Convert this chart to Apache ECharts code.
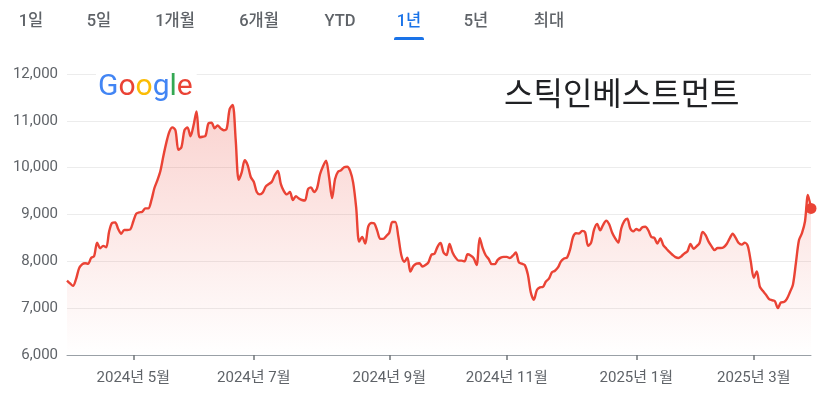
<!DOCTYPE html>
<html>
<head>
<meta charset="utf-8">
<script src="https://cdn.jsdelivr.net/npm/echarts@6/dist/echarts.min.js"></script>
<style>
html,body{margin:0;padding:0;background:#fff;}
#chart{width:829px;height:399px;}
</style>
</head>
<body>
<div id="chart"></div>
<script>
// Closing prices (KRW), one per trading day
const prices = [
  7590, 7530, 7475, 7620, 7850, 7935, 7960, 7950, 8070, 8110,
  8400, 8280, 8330, 8300, 8640, 8820, 8830, 8690, 8590, 8670,
  8670, 8680, 8850, 9020, 9045, 9060, 9130, 9130, 9300, 9560,
  9730, 9930, 10250, 10540, 10770, 10860, 10800, 10380, 10440, 10800,
  10860, 10670, 10900, 11200, 10650, 10660, 10680, 10950, 10960, 10840,
  10900, 10840, 10800, 10830, 11250, 11340, 10600, 9740, 9900, 10160,
  10050, 9800, 9700, 9480, 9430, 9470, 9600, 9650, 9700, 9840,
  9930, 9650, 9500, 9430, 9480, 9310, 9390, 9340, 9310, 9300,
  9540, 9580, 9480, 9560, 9860, 10030, 10150, 9800, 9350, 9760,
  9915, 9945, 10010, 10020, 9930, 9680, 9150, 8420, 8520, 8380,
  8740, 8820, 8810, 8650, 8480, 8480, 8540, 8610, 8840, 8840,
  8530, 8130, 7990, 8080, 7780, 7900, 7950, 7960, 7890, 7920,
  7980, 8140, 8160, 8310, 8390, 8190, 8135, 8370, 8190, 8080,
  8015, 8015, 8000, 8150, 8125, 8070, 7920, 8500, 8280, 8130,
  8050, 7940, 7940, 8030, 8080, 8095, 8095, 8070, 8120, 8190,
  7980, 7950, 7920, 7720, 7330, 7180, 7390, 7445, 7455, 7570,
  7630, 7765, 7800, 7870, 8000, 8060, 8080, 8250, 8520, 8600,
  8595, 8650, 8620, 8330, 8400, 8680, 8800, 8660, 8780, 8870,
  8790, 8610, 8490, 8400, 8700, 8860, 8910, 8700, 8640, 8690,
  8660, 8730, 8740, 8660, 8520, 8500, 8380, 8490, 8340, 8270,
  8200, 8140, 8090, 8070, 8110, 8170, 8215, 8370, 8270, 8320,
  8390, 8630, 8560, 8420, 8320, 8240, 8285, 8285, 8300, 8370,
  8490, 8590, 8500, 8390, 8357, 8400, 8330, 8000, 7650, 7786,
  7460, 7370, 7290, 7200, 7170, 7150, 7000, 7120, 7130, 7200,
  7340, 7500, 7970, 8450, 8600, 8850, 9420, 9130
];
// Trading-day positions of the month ticks and their labels
const tickIndex = [22, 62, 107, 146, 189, 228];
const tickLabels = ['2024년 5월', '2024년 7월', '2024년 9월', '2024년 11월', '2025년 1월', '2025년 3월'];
// Range tabs
const tabLabels = ['1일', '5일', '1개월', '6개월', 'YTD', '1년', '5년', '최대'];
const tabCenters = [31, 99, 175, 259, 340, 409, 476, 549];
const activeTab = '1년';
const titleText = '스틱인베스트먼트';
const logoLetters = ['G', 'o', 'o', 'g', 'l', 'e'];
const logoColors = ['#4285F4', '#EA4335', '#FBBC05', '#4285F4', '#34A853', '#EA4335'];

const categories = prices.map((_, i) => String(i));
const FONT = 'Roboto, "Noto Sans CJK KR", sans-serif';

const chart = echarts.init(document.getElementById('chart'), null, {renderer: 'canvas'});

const graphics = [];
tabLabels.forEach((t, k) => {
  const active = t === activeTab;
  graphics.push({
    type: 'text', x: tabCenters[k], y: 22,
    style: {
      text: t, fill: active ? '#1a73e8' : '#5f6368',
      font: '500 16.5px ' + FONT, textAlign: 'center', textVerticalAlign: 'middle'
    }
  });
  if (active) {
    graphics.push({
      type: 'rect', shape: {x: tabCenters[k] - 15, y: 37, width: 30, height: 3, r: [2, 2, 0, 0]},
      style: {fill: '#1a73e8'}
    });
  }
});
// Google logo
const richStyles = {};
logoLetters.forEach((c, k) => { richStyles['c' + k] = {fill: logoColors[k], font: '400 30px ' + FONT}; });
graphics.push({
  type: 'text', x: 96, y: 87, z: 10,
  style: {
    text: logoLetters.map((c, k) => '{c' + k + '|' + c + '}').join(''),
    rich: richStyles, textVerticalAlign: 'middle', textAlign: 'left',
    backgroundColor: '#fff', padding: [2, 4, 2, 2]
  }
});
graphics.push({
  type: 'text', x: 504, y: 93,
  style: {text: titleText, fill: '#202124', font: '400 32px "Noto Sans CJK KR", sans-serif', textVerticalAlign: 'middle'}
});

const showTick = (idx) => tickIndex.indexOf(idx) >= 0;

chart.setOption({
  animation: false,
  backgroundColor: '#fff',
  grid: {left: 67, right: 18, top: 74, bottom: 44},
  xAxis: {
    type: 'category', data: categories, boundaryGap: false,
    axisLine: {lineStyle: {color: '#9aa0a6', width: 1}},
    axisTick: {show: true, interval: showTick, length: 5, lineStyle: {color: '#70757a', width: 1.5}},
    axisLabel: {
      interval: showTick, margin: 16, color: '#5f6368', fontSize: 15, fontFamily: FONT,
      formatter: (v, idx) => { const k = tickIndex.indexOf(idx); return k >= 0 ? tickLabels[k] : ''; }
    },
    splitLine: {show: false}
  },
  yAxis: {
    type: 'value', min: 6000, max: 12000, interval: 1000,
    axisLine: {show: false}, axisTick: {show: false},
    axisLabel: {color: '#5f6368', fontSize: 15, fontFamily: FONT, margin: 9,
      formatter: v => v.toLocaleString('en-US')},
    splitLine: {lineStyle: {color: '#ececec', width: 1}}
  },
  graphic: graphics,
  series: [
    {
      type: 'line', data: prices, showSymbol: false, smooth: 0.3,
      lineStyle: {color: '#ea4335', width: 2.4},
      areaStyle: {
        color: new echarts.graphic.LinearGradient(0, 0, 0, 1, [
          {offset: 0, color: 'rgba(234,67,53,0.34)'},
          {offset: 1, color: 'rgba(234,67,53,0.0)'}
        ])
      },
      z: 3
    },
    {
      type: 'scatter', symbol: 'circle', symbolSize: 11,
      data: [[categories[prices.length - 1], prices[prices.length - 1]]],
      itemStyle: {color: '#ea4335', opacity: 1}, z: 5
    }
  ]
});
</script>
</body>
</html>
